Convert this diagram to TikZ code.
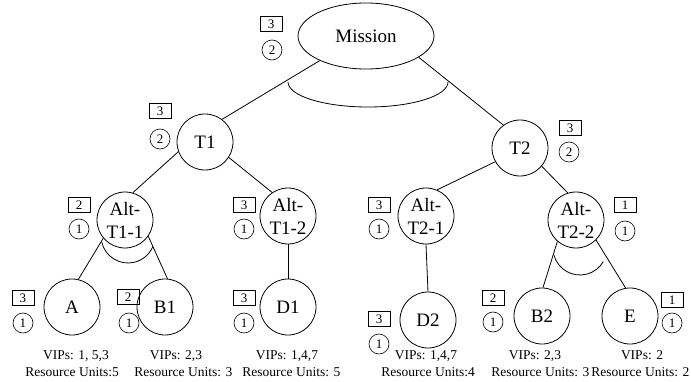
\documentclass[tikz,border=0pt]{standalone}
\usepackage{fontspec}
\setmainfont{Liberation Serif}
\usetikzlibrary{shapes.geometric}

\begin{document}
\begin{tikzpicture}[
  x=1pt, y=1pt,
  line width=0.8pt,
  task/.style={circle, draw, minimum size=56pt, inner sep=0pt, align=center, font=\fontsize{19}{23}\selectfont},
  goal/.style={ellipse, draw, minimum width=136pt, minimum height=66pt, inner sep=0pt, font=\fontsize{19}{23}\selectfont},
  sqbadge/.style={rectangle, draw, minimum width=22pt, minimum height=15pt, inner sep=0pt, line width=0.6pt, font=\fontsize{13}{14}\selectfont},
  rndbadge/.style={circle, draw, minimum size=20pt, inner sep=0pt, line width=0.6pt, font=\fontsize{13}{14}\selectfont},
  info/.style={anchor=base, inner sep=0pt, font=\fontsize{13.5}{16}\selectfont},
  units/.style={info, anchor=base west}
]
  \useasboundingbox (0,0) rectangle (691,381);

  % tree nodes
  \node[goal] (mission) at (366,345) {Mission};
  \node[task] (t1) at (205,239) {T1};
  \node[task] (t2) at (520,233) {T2};
  \node[task] (alt11) at (125,161) {Alt-\\T1-1};
  \node[task] (alt12) at (288,165) {Alt-\\T1-2};
  \node[task] (alt21) at (426,165) {Alt-\\T2-1};
  \node[task] (alt22) at (576,161) {Alt-\\T2-2};
  \node[task] (a) at (72,74) {A};
  \node[task] (b1) at (165,74) {B1};
  \node[task] (d1) at (288,74) {D1};
  \node[task] (d2) at (428,61) {D2};
  \node[task] (b2) at (542,65) {B2};
  \node[task] (e) at (630,65) {E};

  % square / round badges
  \node[sqbadge] (mission-sq) at (271,357) {3};
  \node[rndbadge] (mission-rd) at (272,331) {2};
  \node[sqbadge] (t1-sq) at (160,270) {3};
  \node[rndbadge] (t1-rd) at (160,242) {2};
  \node[sqbadge] (t2-sq) at (570,253) {3};
  \node[rndbadge] (t2-rd) at (569,229) {2};
  \node[sqbadge] (alt11-sq) at (79,176) {2};
  \node[rndbadge] (alt11-rd) at (79,152) {1};
  \node[sqbadge] (alt12-sq) at (244,176) {3};
  \node[rndbadge] (alt12-rd) at (244,152) {1};
  \node[sqbadge] (alt21-sq) at (379,176) {3};
  \node[rndbadge] (alt21-rd) at (379,152) {1};
  \node[sqbadge] (alt22-sq) at (625,176) {1};
  \node[rndbadge] (alt22-rd) at (625,150) {1};
  \node[sqbadge] (a-sq) at (23,83) {3};
  \node[rndbadge] (a-rd) at (23,58) {1};
  \node[sqbadge] (b1-sq) at (128,84) {2};
  \node[rndbadge] (b1-rd) at (129,58) {1};
  \node[sqbadge] (d1-sq) at (244,83) {3};
  \node[rndbadge] (d1-rd) at (244,58) {1};
  \node[sqbadge] (d2-sq) at (379,62) {3};
  \node[rndbadge] (d2-rd) at (379,37) {1};
  \node[sqbadge] (b2-sq) at (493,83) {2};
  \node[rndbadge] (b2-rd) at (493,59) {1};
  \node[sqbadge] (e-sq) at (672,81) {1};
  \node[rndbadge] (e-rd) at (672,58) {1};

  % leaf info
  \node[info] (a-vip) at (76,22) {VIPs: 1, 5,3};
  \node[units] (a-ru) at (25,5) {Resource Units:5};
  \node[info] (b1-vip) at (176,22) {VIPs: 2,3};
  \node[units] (b1-ru) at (134,5) {Resource Units: 3};
  \node[info] (d1-vip) at (287,22) {VIPs: 1,4,7};
  \node[units] (d1-ru) at (242,5) {Resource Units: 5};
  \node[info] (d2-vip) at (426,22) {VIPs: 1,4,7};
  \node[units] (d2-ru) at (381,5) {Resource Units:4};
  \node[info] (b2-vip) at (535,22) {VIPs: 2,3};
  \node[units] (b2-ru) at (491,5) {Resource Units: 3};
  \node[info] (e-vip) at (642,22) {VIPs: 2};
  \node[units] (e-ru) at (591,5) {Resource Units: 2};

  % edges
  \draw (mission.208) -- (t1.53);
  \draw (mission.338) -- (t2.126);
  \draw (t1.200) -- (alt11.74);
  \draw (t1.327) -- (alt12.124);
  \draw (t2.209) -- (alt21.67);
  \draw (t2.320) -- (alt22.107);
  \draw (alt11.220) -- (a.77);
  \draw (alt11.325) -- (b1.85);
  \draw (alt12.south) -- (d1.north);
  \draw (alt21.south) -- (d2.north);
  \draw (alt22.229) -- (b2.88);
  \draw (alt22.315) -- (e.99);

  % AND arcs
  \draw (288,299) arc[start angle=180, end angle=360, x radius=80, y radius=25];
  \draw (128,145) ++(193:27) arc[start angle=193, end angle=337, radius=27];
  \draw (580,133) ++(195:27) arc[start angle=195, end angle=330, radius=27];
\end{tikzpicture}
\end{document}
